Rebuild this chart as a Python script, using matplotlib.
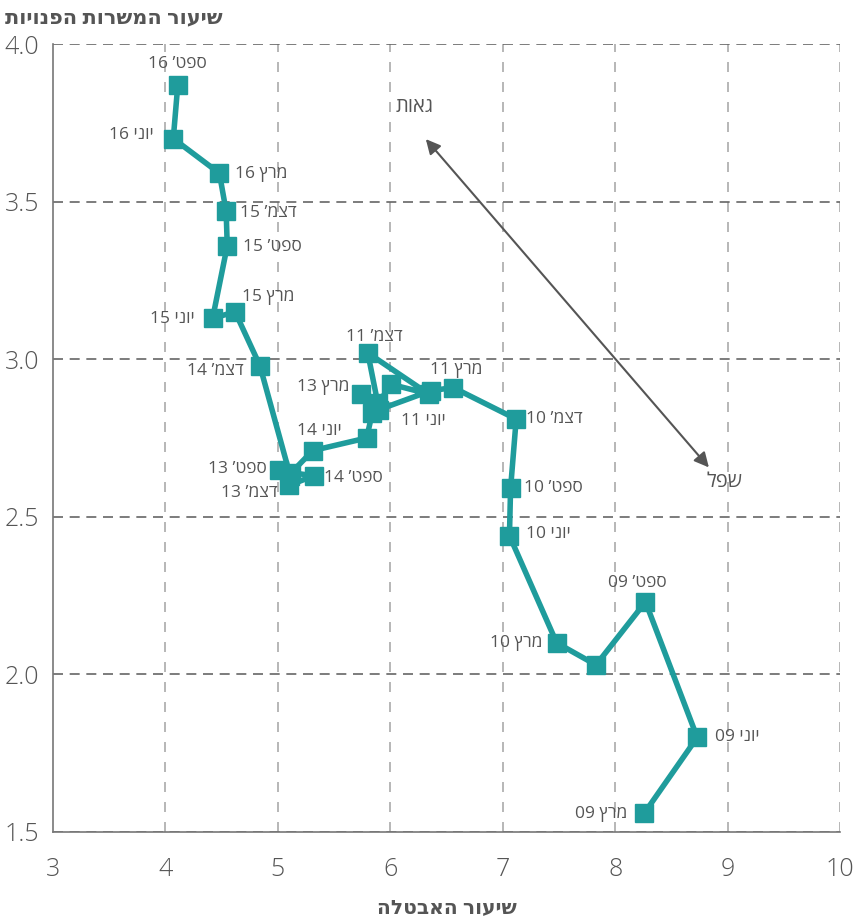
import matplotlib.pyplot as plt

plt.rcParams['font.family'] = ['Open Sans', 'DejaVu Sans']

# שיעור האבטלה (x) ושיעור המשרות הפנויות (y), לפי סדר הקו
unemployment = [8.26, 8.73, 8.27, 7.83, 7.48, 7.06, 7.07, 7.12, 6.56, 6.36,
                5.90, 5.80, 6.34, 6.01, 5.89, 5.74, 5.84, 5.79, 5.31, 5.12,
                5.32, 5.10, 5.01, 5.11, 4.84, 4.62, 4.42, 4.55, 4.54, 4.48,
                4.07, 4.11]
vacancies = [1.56, 1.80, 2.23, 2.03, 2.10, 2.44, 2.59, 2.81, 2.91, 2.90,
             2.84, 3.02, 2.89, 2.92, 2.86, 2.89, 2.83, 2.75, 2.71, 2.64,
             2.63, 2.60, 2.65, 2.63, 2.98, 3.15, 3.13, 3.36, 3.47, 3.59,
             3.70, 3.87]
labels = ["מרץ 09", "יוני 09", "ספט’ 09", "", "מרץ 10", "יוני 10", "ספט’ 10",
          "דצמ’ 10", "מרץ 11", "יוני 11", "", "דצמ’ 11", "", "", "", "מרץ 13",
          "", "", "יוני 14", "", "ספט’ 14", "דצמ’ 13", "ספט’ 13", "",
          "דצמ’ 14", "מרץ 15", "יוני 15", "ספט’ 15", "דצמ’ 15", "מרץ 16",
          "יוני 16", "ספט’ 16"]

x_ticks = [3, 4, 5, 6, 7, 8, 9, 10]
y_ticks = [1.5, 2.0, 2.5, 3.0, 3.5, 4.0]

# מיקום התוויות ביחס לנקודה (פיקסלים) ויישור
label_pos = {
    "מרץ 09": (-17, -1, 'right'), "יוני 09": (18, 0, 'left'),
    "ספט’ 09": (-8, 19, 'center'), "מרץ 10": (-14, 0, 'right'),
    "יוני 10": (17, 2, 'left'), "ספט’ 10": (13, 0, 'left'),
    "דצמ’ 10": (10, 0, 'left'), "מרץ 11": (3, 18, 'center'),
    "יוני 11": (-7, -30, 'center'), "דצמ’ 11": (7, 16, 'center'),
    "מרץ 13": (-12, 7, 'right'), "יוני 14": (7, 20, 'center'),
    "ספט’ 14": (10, -2, 'left'), "דצמ’ 13": (-11, -8, 'right'),
    "ספט’ 13": (-12, 1, 'right'), "דצמ’ 14": (-16, -5, 'right'),
    "מרץ 15": (7, 15, 'left'), "יוני 15": (-18, -1, 'right'),
    "ספט’ 15": (16, -1, 'left'), "דצמ’ 15": (14, -2, 'left'),
    "מרץ 16": (16, -1, 'left'), "יוני 16": (-20, 4, 'right'),
    "ספט’ 16": (0, 21, 'center'),
}


def visual(s):
    # matplotlib לא הופך טקסט מימין לשמאל, אז הופכים ידנית
    parts = s.split(' ')
    if len(parts) == 2 and parts[1].isdigit():
        return parts[1] + ' ' + parts[0][::-1]
    return s[::-1]


teal = '#1f9c9c'
gray = '#555555'

fig = plt.figure(figsize=(8.56, 9.19), dpi=100)
ax = fig.add_axes([0.0619, 0.0947, 0.9194, 0.8574])

ax.plot(unemployment, vacancies, color=teal, lw=4, marker='s',
        markersize=13, zorder=3)

for x, y, lab in zip(unemployment, vacancies, labels):
    if not lab:
        continue
    dx, dy, ha = label_pos[lab]
    ax.annotate(visual(lab), (x, y), xytext=(dx, dy),
                textcoords='offset pixels', ha=ha, va='center',
                fontsize=12.5, color=gray, zorder=4)

# חץ גאות / שפל
ax.annotate('', xy=(6.30, 3.705), xytext=(8.85, 2.65),
            arrowprops=dict(arrowstyle='<|-|>', color=gray, lw=1.5,
                            mutation_scale=22), zorder=2)
ax.text(6.22, 3.80, visual('גאות'), fontsize=14.5, color=gray,
        ha='center', va='center')
ax.text(8.97, 2.61, visual('שפל'), fontsize=14.5, color=gray,
        ha='center', va='center')

ax.set_xlim(3, 10)
ax.set_ylim(1.5, 4.0)
ax.set_xticks(x_ticks)
ax.set_yticks(y_ticks)
ax.set_xticklabels([str(t) for t in x_ticks], fontweight='light')
ax.set_yticklabels([f'{t:.1f}' for t in y_ticks], fontweight='light')
ax.tick_params(length=0, labelsize=18, labelcolor=gray)
ax.tick_params(axis='x', pad=18)
ax.tick_params(axis='y', pad=10)

for v in x_ticks[1:]:
    ax.axvline(v, color='#aaaaaa', lw=1.2, ls=(0, (6, 6)), zorder=1)
for h in y_ticks:
    ax.axhline(h, color='#666666', lw=1.2, ls=(0, (6, 4)), zorder=1)

for side in ['top', 'right']:
    ax.spines[side].set_visible(False)
ax.spines['left'].set_color('#777777')
ax.spines['bottom'].set_color('#777777')
ax.spines['left'].set_linewidth(1.2)
ax.spines['bottom'].set_linewidth(1.2)

fig.text(5 / 856, 1 - 18 / 919, visual('שיעור המשרות הפנויות'),
         fontsize=15, fontweight='bold', color=gray, ha='left', va='center')
fig.text(447 / 856, 1 - 908 / 919, visual('שיעור האבטלה'),
         fontsize=14.5, fontweight='bold', color=gray, ha='center', va='center')

fig.savefig('out.png', dpi=100)
